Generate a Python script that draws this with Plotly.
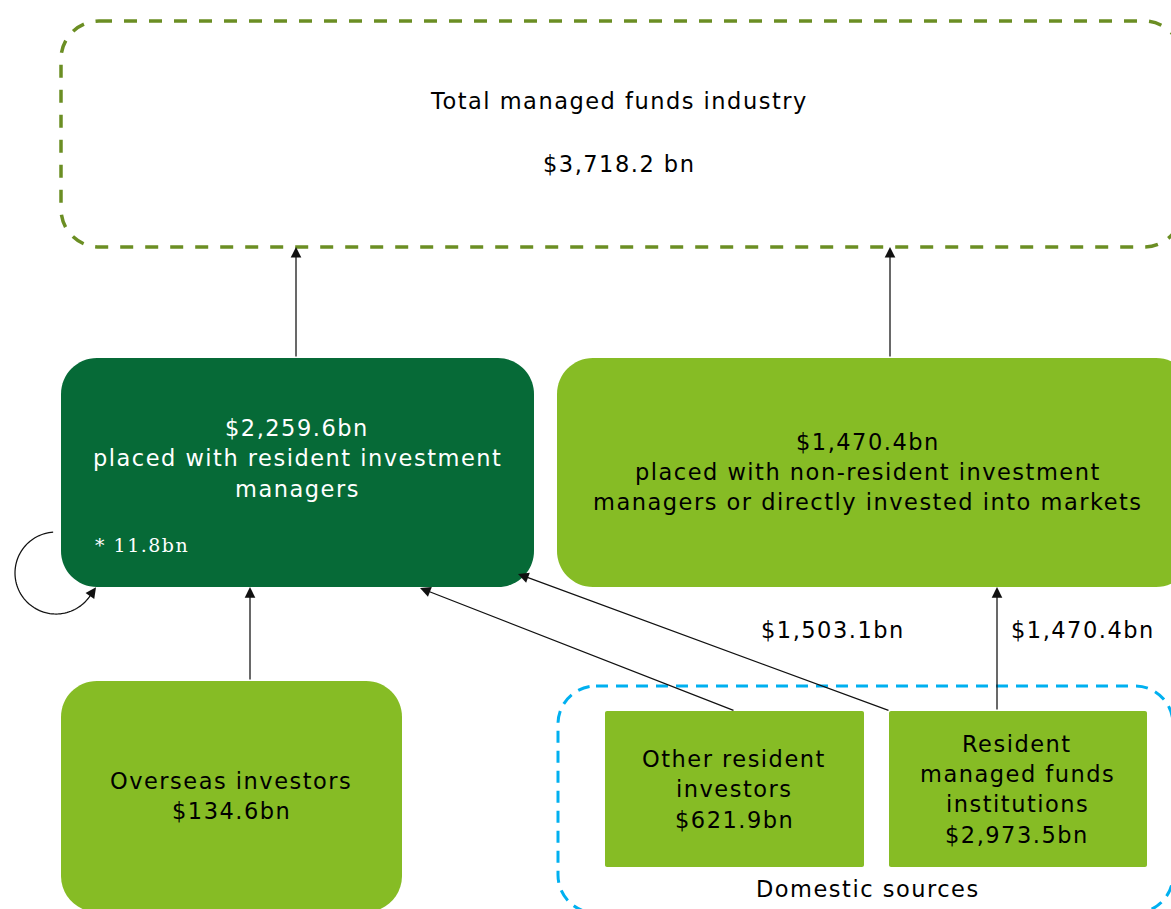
import numpy as np
import plotly.graph_objects as go

# ---------------- data (A$ billions) ----------------
total_label = ["Total managed funds industry"]
total_value = [3718.2]
placed_labels = [["placed with resident investment", "managers"],
                 ["placed with non-resident investment", "managers or directly invested into markets"]]
placed_values = [2259.6, 1470.4]
self_placed_value = [11.8]
source_labels = [["Overseas investors"],
                 ["Other resident", "investors"],
                 ["Resident", "managed funds", "institutions"]]
source_values = [134.6, 621.9, 2973.5]
flow_values = [1503.1, 1470.4]
group_label = ["Domestic sources"]


def bn(v, space=False):
    return f"${v:,.1f}" + (" bn" if space else "bn")


W, H = 1171, 909
DARK = "#066a37"
LIGHT = "#86bc25"
OLIVE = "#6b8e23"
BLUE = "#00b0f0"
FONT = "DejaVu Sans"
FS = 22.5
LS = "1.5px"


def rrect(x0, y0, x1, y1, r):
    k = 0.5523 * r
    return (f"M{x0 + r},{y0} L{x1 - r},{y0} "
            f"C{x1 - r + k},{y0} {x1},{y0 + r - k} {x1},{y0 + r} "
            f"L{x1},{y1 - r} "
            f"C{x1},{y1 - r + k} {x1 - r + k},{y1} {x1 - r},{y1} "
            f"L{x0 + r},{y1} "
            f"C{x0 + r - k},{y1} {x0},{y1 - r + k} {x0},{y1 - r} "
            f"L{x0},{y0 + r} "
            f"C{x0},{y0 + r - k} {x0 + r - k},{y0} {x0 + r},{y0} Z")


shapes = []


def box(x0, y0, x1, y1, r, fill=None, line=None, width=0, dash=None):
    shapes.append(dict(
        type="path", path=rrect(x0, y0, x1, y1, r), xref="x", yref="y",
        fillcolor=fill if fill else "rgba(0,0,0,0)",
        line=dict(color=line if line else "rgba(0,0,0,0)", width=width,
                  dash=dash if dash else "solid"),
        layer="below"))


annotations = []


def text(x, y, s, color="black", size=FS, family=FONT, xanchor="center", ls=LS):
    annotations.append(dict(
        x=x, y=y, xref="x", yref="y", showarrow=False,
        text=f'<span style="letter-spacing:{ls}">{s}</span>',
        font=dict(family=family, size=size, color=color),
        xanchor=xanchor, yanchor="middle"))


def arrow(x0, y0, x1, y1):
    annotations.append(dict(
        x=x1, y=y1, ax=x0, ay=y0, xref="x", yref="y", axref="x", ayref="y",
        showarrow=True, arrowhead=2, arrowsize=1.7, arrowwidth=1.25,
        arrowcolor="#111111", text="", standoff=0, startstandoff=0))


# ---------------- boxes ----------------
box(61, 21, 1182, 247, 38, line=OLIVE, width=3.5, dash="13px,12px")
box(61, 358, 534, 587, 36, fill=DARK)
box(557, 358, 1192, 587, 36, fill=LIGHT)
box(61, 681, 402, 912, 36, fill=LIGHT)
box(558, 686, 1173, 913, 38, line=BLUE, width=3, dash="12px,8px")
box(605, 711, 864, 867, 2, fill=LIGHT)
box(889, 711, 1147, 867, 2, fill=LIGHT)

# ---------------- loop arrow (self-placed funds) ----------------
cx, cy, r = 56, 573, 41
th = np.radians(np.linspace(266, 30, 80))
px = cx + r * np.cos(th)
py = cy + r * np.sin(th)
path = "M" + " L".join(f"{a:.2f},{b:.2f}" for a, b in zip(px, py))
shapes.append(dict(type="path", path=path, xref="x", yref="y",
                   line=dict(color="#111111", width=1.25)))
t_end = np.radians(22)
arrow(cx + r * np.cos(np.radians(34)), cy + r * np.sin(np.radians(34)),
      cx + r * np.cos(t_end) + 2, cy + r * np.sin(t_end) - 1)

# ---------------- arrows ----------------
arrow(296, 358, 296, 247)
arrow(890, 358, 890, 247)
arrow(250, 681, 250, 587)
arrow(735, 711, 420, 588)
arrow(890, 711, 518, 574)
arrow(997, 711, 997, 587)

# ---------------- texts ----------------
text(619, 101, total_label[0])
text(619, 164, bn(total_value[0], space=True))

text(297, 428, bn(placed_values[0]), color="white")
text(297, 458, placed_labels[0][0], color="white")
text(297, 489, placed_labels[0][1], color="white")
text(93, 545, "* " + f"{self_placed_value[0]:.1f}bn", color="white",
     size=19, family="DejaVu Serif", xanchor="left", ls="1.5px")

text(868, 442, bn(placed_values[1]))
text(868, 472, placed_labels[1][0])
text(868, 502, placed_labels[1][1])

text(833, 630, bn(flow_values[0]))
text(1083, 630, bn(flow_values[1]))

text(231, 781, source_labels[0][0])
text(231, 811, bn(source_values[0]))

text(734, 759, source_labels[1][0])
text(734, 789, source_labels[1][1])
text(734, 820, bn(source_values[1]))

text(1017, 744, source_labels[2][0])
text(1017, 774, source_labels[2][1])
text(1017, 804, source_labels[2][2])
text(1017, 835, bn(source_values[2]))

text(868, 889, group_label[0])

fig = go.Figure()
fig.update_layout(
    width=W, height=H, margin=dict(l=0, r=0, t=0, b=0),
    paper_bgcolor="white", plot_bgcolor="white",
    xaxis=dict(range=[0, W], visible=False, fixedrange=True),
    yaxis=dict(range=[H, 0], visible=False, fixedrange=True),
    shapes=shapes, annotations=annotations, showlegend=False,
)
fig.write_html("out.html", config={"displayModeBar": False},
               post_script="document.body.style.margin='0';document.body.style.overflow='hidden';")
